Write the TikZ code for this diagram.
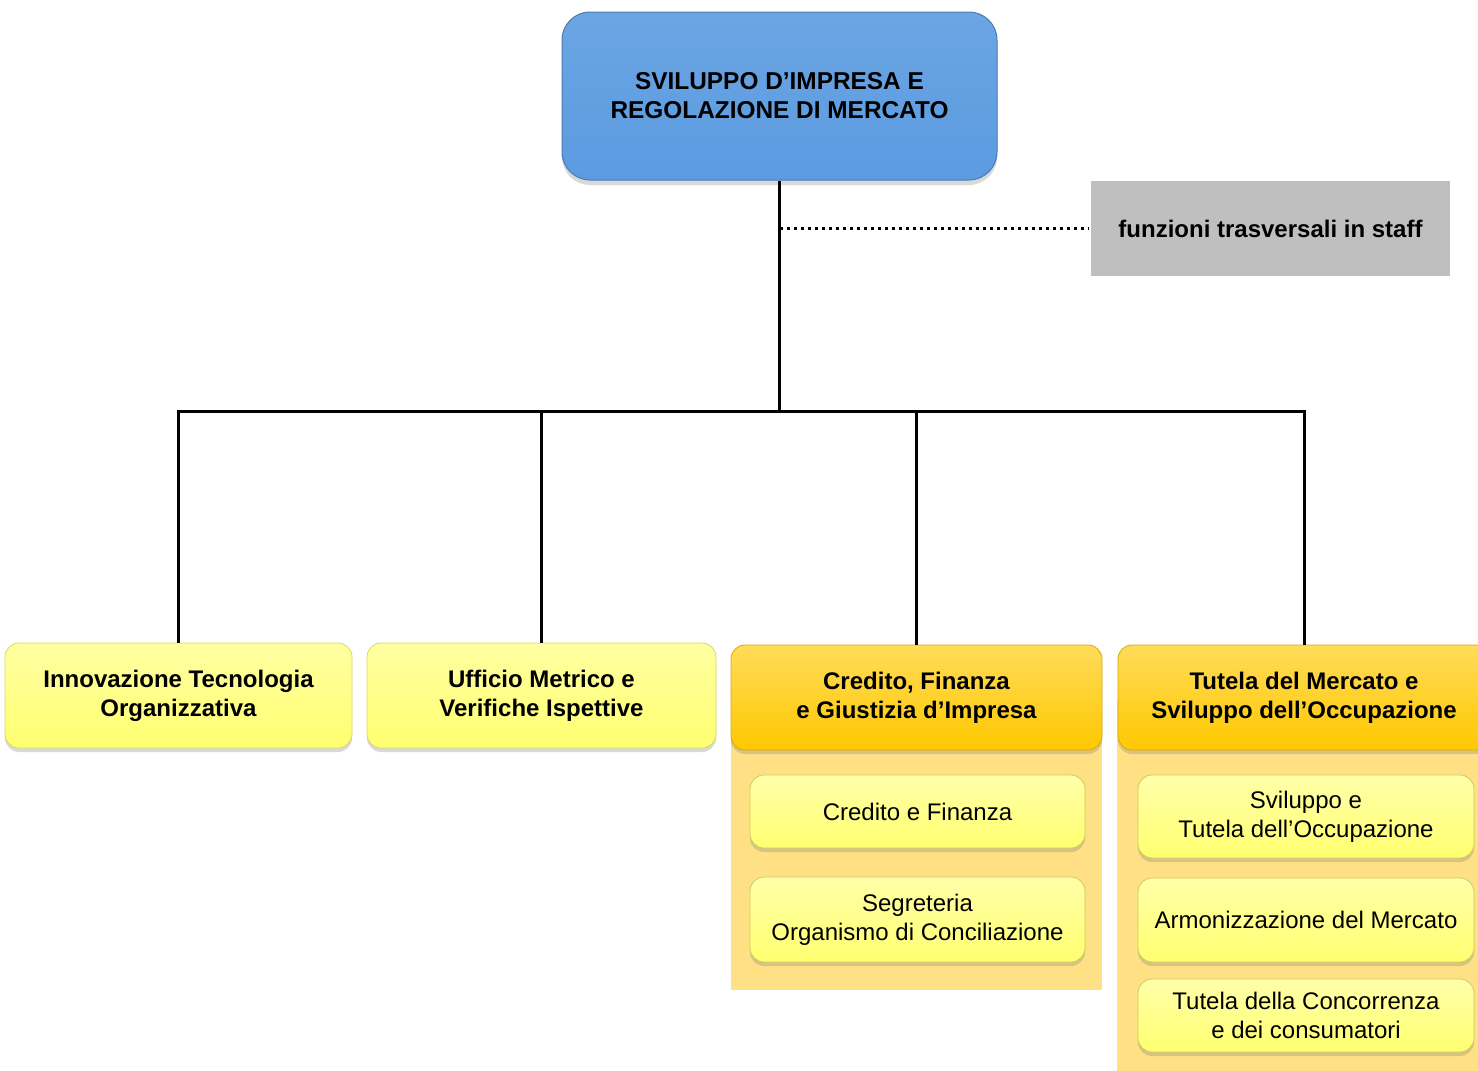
\documentclass[tikz,border=0pt]{standalone}
\usepackage{fontspec}
\setmainfont{Liberation Sans}
\usetikzlibrary{shadows}
\definecolor{hdblue}{HTML}{5B9BE0}
\definecolor{stgray}{HTML}{BFBFBF}
\definecolor{unyellow}{HTML}{FFFF70}
\definecolor{unorange}{HTML}{FFC800}
\definecolor{pnorange}{HTML}{FFE085}
\tikzset{
  head/.style={rectangle, rounded corners=14pt, top color=hdblue!90!white, bottom color=hdblue,
               draw=hdblue!80!black, line width=0.5pt, align=center,
               font=\fontsize{12.2}{14.5}\selectfont\bfseries,
               minimum width=217.5pt, minimum height=84pt,
               drop shadow={shadow xshift=0pt, shadow yshift=-2.5pt, opacity=0.3}},
  staff/.style={rectangle, fill=stgray, font=\fontsize{12}{14.5}\selectfont\bfseries,
               minimum width=179.5pt, minimum height=47.5pt},
  unit/.style={rectangle, rounded corners=7pt, top color=#1!65!white, bottom color=#1,
               draw=#1!85!black, line width=0.4pt, align=center,
               font=\fontsize{12}{14.5}\selectfont\bfseries, minimum height=52.5pt,
               drop shadow={shadow xshift=0pt, shadow yshift=-2pt, opacity=0.3}},
  unit/.default=unyellow,
  subunit/.style={rectangle, rounded corners=7pt, top color=unyellow!60!white, bottom color=unyellow,
               draw=unyellow!80!black, line width=0.4pt, align=center,
               font=\fontsize{12}{14.5}\selectfont, minimum width=168pt,
               drop shadow={shadow xshift=0pt, shadow yshift=-2pt, opacity=0.3}},
  link/.style={line width=1.5pt, draw=black},
  staffline/.style={line width=1.5pt, dotted, draw=black},
}
\begin{document}
\begin{tikzpicture}[x=0.5pt, y=-0.5pt]
  \useasboundingbox (0,0) rectangle (1478,1071);
  \fill[pnorange] (731,700) rectangle (1102,990);
  \fill[pnorange] (1117,700) rectangle (1490,1075);
  \node[head] (head) at (779.5,96) {SVILUPPO D’IMPRESA E\\REGOLAZIONE DI MERCATO};
  \node[staff] (staff) at (1270.5,228.5) {funzioni trasversali in staff};
  \coordinate (bus) at (779.5,411);
  \node[unit, minimum width=173.5pt] (u1) at (178.5,695.5) {Innovazione Tecnologia\\Organizzativa};
  \node[unit, minimum width=174.5pt] (u2) at (541.5,695.5) {Ufficio Metrico e\\Verifiche Ispettive};
  \node[unit=unorange, minimum width=185.5pt] (u3) at (916.5,697.5) {Credito, Finanza\\e Giustizia d’Impresa};
  \node[unit=unorange, minimum width=186pt] (u4) at (1304,697.5) {Tutela del Mercato e\\Sviluppo dell’Occupazione};
  \draw[staffline] (head.south |- staff.west) -- ([xshift=-1.5pt]staff.west);
  \draw[link] (head.south) -- (bus);
  \foreach \n in {u1,u2,u3,u4}
    \draw[link] (bus) -| (\n.north);
  \node[subunit, minimum width=167.5pt, minimum height=36.5pt] (s1) at (917.5,811.5) {Credito e Finanza};
  \node[subunit, minimum width=167.5pt, minimum height=42.5pt] (s2) at (917.5,919.5) {Segreteria\\Organismo di Conciliazione};
  \node[subunit, minimum height=41.5pt] (t1) at (1306,816.5) {Sviluppo e\\Tutela dell’Occupazione};
  \node[subunit, minimum height=42pt] (t2) at (1306,920) {Armonizzazione del Mercato};
  \node[subunit, minimum height=36.5pt] (t3) at (1306,1015.5) {Tutela della Concorrenza\\e dei consumatori};
\end{tikzpicture}
\end{document}
